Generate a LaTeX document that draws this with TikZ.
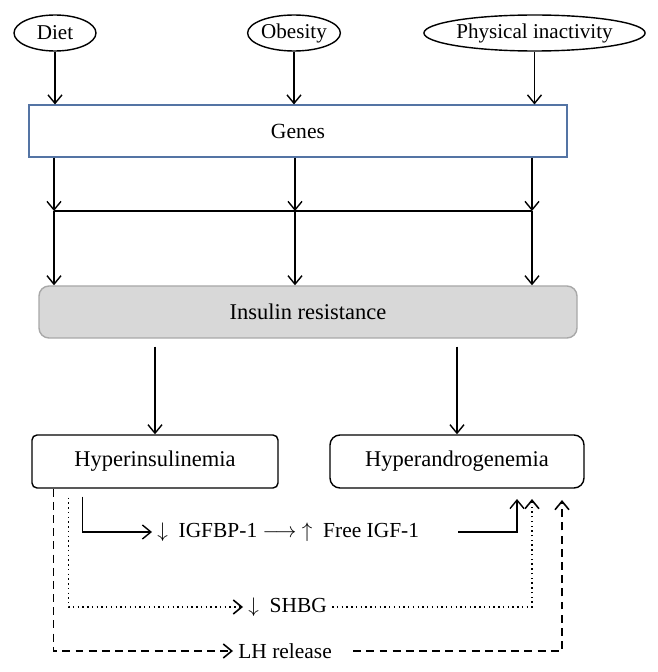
\documentclass[tikz,border=0pt]{standalone}
\usepackage{fontspec}
\setmainfont{Liberation Serif}
\usetikzlibrary{arrows.meta,shapes.geometric}

\definecolor{genesblue}{RGB}{84,116,164}
\definecolor{insfill}{RGB}{216,216,216}
\definecolor{insline}{RGB}{168,168,168}

\tikzset{
  arr/.style={-{Straight Barb[length=1.7mm,width=2.8mm]}, line width=0.8pt},
  cause/.style={draw, ellipse, line width=0.8pt, inner sep=0pt,
    minimum height=0.72cm, font=\fontsize{12}{14}\selectfont},
  box/.style={draw, line width=0.8pt, minimum height=1.06cm,
    font=\fontsize{12.8}{15}\selectfont},
  label/.style={anchor=west, inner sep=0.1cm, font=\fontsize{12.2}{15}\selectfont},
  dotline/.style={line width=0.9pt, dash pattern=on 0.8pt off 1.9pt},
  dashline/.style={line width=0.9pt, dash pattern=on 4.5pt off 3pt},
}

\begin{document}
\begin{tikzpicture}
    \useasboundingbox (0,0) rectangle (13.16,13.44);

    % ---------------------------------------------
    % risk factors on top
    \node[cause, minimum width=1.64cm] (diet) at (1.1, 12.78) {Diet};
    \node[cause, minimum width=1.8cm] (obes) at (5.88, 12.78) {Obesity};
    \node[cause, minimum width=4.42cm] (inact) at (10.69, 12.78) {Physical inactivity};

    \node[draw=genesblue, line width=0.6pt, minimum width=10.76cm, minimum height=1.04cm,
      font=\fontsize{12.3}{15}\selectfont] (genes) at (5.96, 10.82) {Genes};

    \draw[arr] (diet.south) -- (diet.south |- genes.north);
    \draw[arr] (obes.south) -- (obes.south |- genes.north);
    \draw[arr] (inact.south) -- (inact.south |- genes.north);

    % ---------------------------------------------
    % genes down to insulin resistance
    \coordinate (barL) at (1.08, 9.22);
    \coordinate (barM) at (5.9, 9.22);
    \coordinate (barR) at (10.64, 9.22);

    \node[draw=insline, fill=insfill, line width=0.8pt, rounded corners=0.2cm,
      minimum width=10.76cm, minimum height=1.04cm,
      font=\fontsize{12.8}{15}\selectfont] (ins) at (6.16, 7.2) {Insulin resistance};

    \draw[arr] (genes.south -| barL) -- (barL);
    \draw[arr] (genes.south -| barM) -- (barM);
    \draw[arr] (genes.south -| barR) -- (barR);
    \draw[line width=0.8pt] (barL) -- (barR);
    \draw[arr] (barL) -- (barL |- ins.north);
    \draw[arr] (barM) -- (barM |- ins.north);
    \draw[arr] (barR) -- (barR |- ins.north);

    % ---------------------------------------------
    % hyperinsulinemia and hyperandrogenemia
    \node[box, rounded corners=0.1cm, minimum width=4.92cm] (hypi) at (3.1, 4.21) {Hyperinsulinemia};
    \node[box, rounded corners=0.2cm, minimum width=5.08cm] (hypa) at (9.14, 4.21) {Hyperandrogenemia};

    \draw[arr, shorten <=0.16cm] (ins.south -| hypi.north) -- (hypi.north);
    \draw[arr, shorten <=0.16cm] (ins.south -| hypa.north) -- (hypa.north);

    % ---------------------------------------------
    % three routes from hyperinsulinemia
    \node[label] (igf) at (3.04, 2.8) {$\downarrow$\ \ IGFBP-1 $\longrightarrow$ $\uparrow$\ \ Free IGF-1};
    \node[label] (shbg) at (4.86, 1.3) {$\downarrow$\ \ SHBG};
    \node[label] (lh) at (4.66, 0.42) {LH release};

    \coordinate (igfend) at (10.34, 3.46);
    \coordinate (shbgend) at (10.64, 3.46);
    \coordinate (lhend) at (11.24, 3.44);

    % free IGF-1 route
    \draw[arr] ([xshift=1.02cm, yshift=-0.16cm]hypi.south west) |- (igf.west);
    \draw[arr] ([xshift=0.68cm]igf.east) -| (igfend);
    % SHBG route
    \draw[arr, dotline] ([xshift=0.74cm, yshift=-0.18cm]hypi.south west) |- (shbg.west);
    \draw[arr, dotline] (shbg.east) -| (shbgend);
    % LH route
    \draw[arr, dashline] ([xshift=0.44cm]hypi.south west) |- (lh.west);
    \draw[arr, dashline] ([xshift=0.32cm]lh.east) -| (lhend);

\end{tikzpicture}
\end{document}
